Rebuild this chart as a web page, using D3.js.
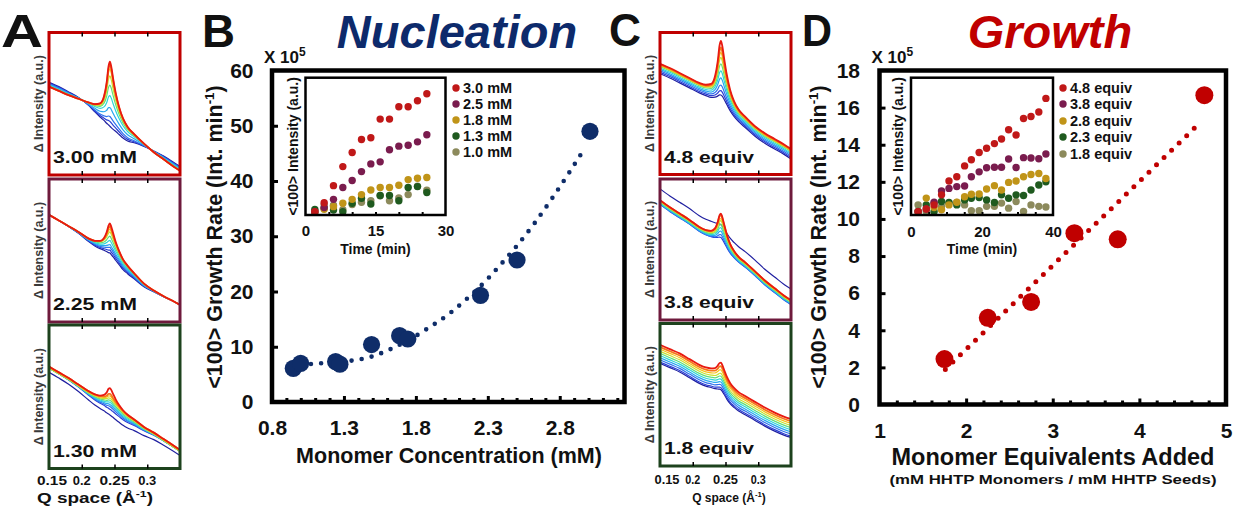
<!DOCTYPE html>
<html>
<head>
<meta charset="utf-8">
<script src="https://cdn.jsdelivr.net/npm/d3@7"></script>
<style>
body { margin: 0; background: #fff; }
text { font-family: "Liberation Sans", Arial, sans-serif; font-weight: bold; fill: #111; }
</style>
</head>
<body>
<div id="fig"></div>
<script>
// ---------------- data ----------------
// B: nucleation rate vs monomer concentration
let concB = [0.948, 0.999, 1.242, 1.272, 1.492, 1.687, 1.744, 2.249, 2.503, 3.01];
let rateB = [6.1, 7.0, 7.3, 6.85, 10.4, 12.0, 11.4, 19.3, 25.7, 49.0];
let fitConcB = [0.93, 1.08, 1.2, 1.355, 1.49, 1.626, 1.75, 1.869, 2.043, 2.147, 2.307, 2.39, 2.49, 2.62, 2.745, 2.86, 2.98];
let fitRateB = [6.4, 6.9, 7.1, 7.5, 8.2, 9.6, 11.2, 13.1, 16.2, 18.5, 22.5, 24.9, 27.9, 32.2, 36.8, 41.3, 46.2];

// B inset: <100> intensity vs time
let timeB = [2, 4, 6, 8, 10, 12, 14, 16, 18, 20, 22, 24, 26];
let in30 = [1, 7.6, 20.2, 34.3, 44.7, 54.3, 55.6, 69.4, 69.4, 78.5, 78.5, 83, 88.1];
let in25 = [1, 4, 10.1, 18.8, 24, 30.6, 36.3, 37.8, 46.7, 49.4, 50.1, 52.6, 57.8];
let in18 = [0.5, 2.7, 4.7, 7.2, 10.1, 13.6, 17, 18.8, 18.8, 20.5, 24.7, 25.7, 26.2];
let in13 = [2.7, 3.5, 2.2, 1, 7.2, 10.9, 6.7, 12.9, 12.9, 9, 18.8, 19.5, 15.1];
let in10 = [0.5, 6.2, 5.7, 2.5, 6.2, 7.9, 9.1, 12.8, 9.1, 11.1, 13.6, 19.8, 16.8];
let legendB = ["3.0 mM", "2.5 mM", "1.8 mM", "1.3 mM", "1.0 mM"];

// D: growth rate vs monomer equivalents
let equivD = [1.75, 2.25, 2.75, 3.25, 3.75, 4.75];
let rateD = [2.45, 4.67, 5.53, 9.23, 8.9, 16.67];
let fitEquivD = [1.76, 4.69];
let fitRateD = [1.89, 15.14];

// D inset
let timeD = [2.0, 4.3, 6.5, 8.6, 10.7, 12.9, 15.1, 17.0, 19.2, 21.3, 23.5, 25.5, 27.5, 29.6, 31.7, 33.8, 36.0, 38.0];
let in48 = [1, 3, 6, 13.4, 23.6, 26.8, 34.8, 39.4, 44.7, 47.9, 51.3, 54.7, 61.5, 57.7, 69.8, 71.3, 74.7, 84.7];
let in38 = [1, 3, 8, 16.3, 18.2, 19.5, 20, 26.8, 30.4, 33.4, 33.8, 33.8, 39.9, 33.6, 40.9, 40.6, 40.1, 43.6];
let in28 = [1, 11, 4, 2.4, 6, 8, 12, 13.9, 14, 17.7, 20.2, 17, 22.6, 23.6, 26.8, 28.5, 29.2, 25.5];
let in23 = [1.2, 6, 1.2, 8.5, 7.8, 6, 9.7, 10.9, 11.4, 9.7, 7.8, 13.4, 10.9, 13.4, 12.9, 17, 20.7, 23.1];
let in18e = [6, 1.2, 7.3, 4.9, 7.3, 7.8, 6, 1.7, 1.7, 4.9, 4.9, 7.3, 3.6, 8.5, 1.2, 6, 4.9, 4.4];
let legendD = ["4.8 equiv", "3.8 equiv", "2.8 equiv", "2.3 equiv", "1.8 equiv"];

let insetColors = ["#c01818", "#7a1c4e", "#c09418", "#1f5a1f", "#8c8a5c"];

// A / C: difference spectra (Q space), baseline + peak for each trace
let qGrid = [0.150, 0.165, 0.180, 0.195, 0.210, 0.220, 0.228, 0.234, 0.238, 0.241, 0.243, 0.245, 0.248, 0.252, 0.257, 0.263, 0.270, 0.280, 0.295, 0.310, 0.325, 0.340, 0.350];
let peakShape = [0, 0, 0, 0, 0, 0.02, 0.08, 0.25, 0.55, 0.9, 1, 0.92, 0.7, 0.45, 0.25, 0.12, 0.05, 0.02, 0, 0, 0, 0, 0];
let humpShape = [0, 0, 0.05, 0.15, 0.35, 0.55, 0.7, 0.8, 0.87, 0.92, 0.95, 0.98, 1, 1, 0.97, 0.9, 0.8, 0.6, 0.35, 0.15, 0.05, 0, 0];
let rainbow = ["#1f1fa0", "#2a3fd6", "#2f72ee", "#27a8f0", "#2fd6d6", "#62de7a", "#c8e030", "#f6c21a", "#f6781a", "#e81a10"];

let baseA1 = [62, 59, 56, 53.5, 51, 49, 47.5, 46.5, 45.5, 45, 44.5, 44, 43, 41.5, 39, 35.5, 32, 28, 22, 16, 11, 6, 3];
let peakA1 = [0, 2, 4, 8, 14, 20, 26, 30, 33, 35];
let humpA1 = [-14, -12, -10, -7, -4, -2, -1, 0, 0, 0];
let offA1 = [3, 2.5, 2, 1.5, 1, 0.5, 0, 0, 0, 0];

let baseA2 = [75, 71, 67, 63, 58.5, 56.5, 55.5, 55, 54.5, 54, 54, 53, 51.5, 49, 46, 42, 38.6, 33.8, 26.8, 22, 18, 14.5, 12];
let peakA2 = [0, 1, 2, 3, 5, 7, 9, 11, 13, 15];
let humpA2 = [-6, -5, -4, -3, -2, -1, 0, 0, 0, 0];
let offA2 = [0, 0, 0, 0, 0, 0, 0, 0, 0, 0];

let baseA3 = [70, 66, 62, 57.5, 53, 50.5, 49, 48, 47, 46.5, 46, 45.5, 44.5, 43, 41, 38.5, 36, 33, 28, 24, 19.5, 15, 12];
let peakA3 = [0, 0, 1, 1.5, 2, 2.5, 3, 4, 5, 9];
let humpA3 = [-6, -5, -4, -3, -2, -1, 0, 0, 0, 0];
let offA3 = [-3, 0, 0, 0, 0, 0, 0, 0.5, 1, 1];

let baseC1 = [78, 75, 71.5, 68, 64.5, 62.5, 61, 60.5, 60, 59.5, 59, 58.5, 57, 54.5, 51, 47.5, 44, 40, 34, 29, 25, 21, 18];
let peakC1 = [4, 6, 9, 13, 17, 21, 25, 28, 31, 35];
let humpC1 = [0, 0, 0, 0, 0, 0, 0, 0, 0, 0];
let offC1 = [-7, -6, -5, -4, -3, -2, -1.5, -1, -0.5, 0];

let baseC2 = [85, 80, 75.5, 71, 66, 63.5, 62, 61, 60.5, 60, 59.5, 58.5, 56.5, 53.5, 50, 47, 44, 40.5, 34.5, 28, 22.5, 17, 14];
let peakC2 = [0, 2, 4, 6, 8, 10, 12, 13, 15, 16];
let humpC2 = [0, 0, 0, 0, 0, 0, 0, 0, 0, 0];
let offC2 = [8, -3, -3, -2.5, -2, -1.5, -1, -0.5, 0, 0];

let baseC3 = [85, 82, 79, 75, 71, 69, 68, 67, 66.5, 66, 65.5, 64.5, 62.5, 59.5, 56.5, 54, 51.5, 49, 45, 41, 37.5, 34.5, 33];
let peakC3 = [1, 1.5, 2, 2.5, 3, 3.5, 4, 5, 6, 7];
let humpC3 = [0, 0, 0, 0, 0, 0, 0, 0, 0, 0];
let offC3 = [-13, -12, -10.5, -9, -7.5, -6, -4.5, -3, -1.5, 0];

let qTicks = [0.15, 0.2, 0.25, 0.3];

// ---------------- drawing ----------------
let svg = d3.select("#fig").append("svg")
  .attr("width", 1236)
  .attr("height", 506);
svg.append("rect").attr("width", 1236).attr("height", 506).attr("fill", "#fff");

let navy = "#0f2d69";
let red = "#c00000";
let clipN = 0;

function addText(x, y, s, size, opts) {
  opts = opts || {};
  let t = svg.append("text")
    .attr("x", x).attr("y", y)
    .attr("font-size", size)
    .attr("text-anchor", opts.anchor || "start")
    .text(s);
  if (opts.fill) t.style("fill", opts.fill);
  if (opts.italic) t.attr("font-style", "italic");
  if (opts.len) t.attr("textLength", opts.len).attr("lengthAdjust", "spacingAndGlyphs");
  return t;
}

// vertical label centred on (cx, cy)
function vLabel(cx, cy, size, parts, fill) {
  let t = svg.append("text")
    .attr("transform", `translate(${cx},${cy}) rotate(-90)`)
    .attr("text-anchor", "middle")
    .attr("y", size * 0.36)
    .attr("font-size", size);
  if (fill) t.style("fill", fill);
  parts.forEach(p => {
    let s = t.append("tspan").text(p.t);
    if (p.sup) s.attr("font-size", size * 0.62).attr("dy", -size * 0.38);
    if (p.back) s.attr("dy", size * 0.38);
  });
  return t;
}

function styleAxis(g, size) {
  g.select(".domain").remove();
  g.selectAll("line").attr("stroke", "#000");
  g.selectAll("text").attr("font-size", size)
    .attr("font-family", '"Liberation Sans", Arial, sans-serif')
    .attr("font-weight", "bold").style("fill", "#111");
}

// spectrum box (panels A and C)
function drawSpectrum(box, base, peaks, humps, offs) {
  let x = d3.scaleLinear().domain([0.15, 0.35]).range([box.x0, box.x1]);
  let y = d3.scaleLinear().domain([0, 100]).range([box.y1, box.y0]);
  let id = "clip" + (clipN++);
  svg.append("clipPath").attr("id", id).append("rect")
    .attr("x", box.x0).attr("y", box.y0)
    .attr("width", box.x1 - box.x0).attr("height", box.y1 - box.y0);
  let g = svg.append("g").attr("clip-path", `url(#${id})`);
  let line = d3.line().x(d => x(d[0])).y(d => y(d[1])).curve(d3.curveMonotoneX);
  peaks.forEach((p, i) => {
    let pts = qGrid.map((q, k) => [q, base[k] + offs[i] + p * peakShape[k] + humps[i] * humpShape[k]]);
    g.append("path")
      .attr("d", line(pts))
      .attr("fill", "none")
      .attr("stroke", rainbow[i])
      .attr("stroke-width", i > 7 ? 1.8 : 1.2);
  });
  svg.append("rect")
    .attr("x", box.x0).attr("y", box.y0)
    .attr("width", box.x1 - box.x0).attr("height", box.y1 - box.y0)
    .attr("fill", "none").attr("stroke", box.color).attr("stroke-width", 3);
  let gt = svg.append("g").attr("transform", `translate(0,${box.y0})`)
    .call(d3.axisTop(x).tickValues([0.2, 0.25, 0.3]).tickSize(-4).tickFormat(""));
  styleAxis(gt, 10);
  gt.selectAll("line").attr("stroke-width", 1.5);
  let gb = svg.append("g").attr("transform", `translate(0,${box.y1})`)
    .call(d3.axisBottom(x).tickValues([0.2, 0.25, 0.3]).tickSize(-4).tickFormat(""));
  styleAxis(gb, 10);
  gb.selectAll("line").attr("stroke-width", 1.5);
  vLabel(box.x0 - 11, (box.y0 + box.y1) / 2, 12.5, [{ t: "\u0394 Intensity (a.u.)" }], "#3a3a3a");
  addText(box.x0 + 4, box.y1 - 12, box.label, 17, { len: box.len });
  return x;
}

// panel A
let boxesA = [
  { x0: 49, x1: 180, y0: 32.5, y1: 175, color: "#c00000", label: "3.00 mM", len: 84 },
  { x0: 49, x1: 180, y0: 179, y1: 322, color: "#6e1a3c", label: "2.25 mM", len: 84 },
  { x0: 49, x1: 180, y0: 325, y1: 468.5, color: "#1d421d", label: "1.30 mM", len: 84 }
];
drawSpectrum(boxesA[0], baseA1, peakA1, humpA1, offA1);
drawSpectrum(boxesA[1], baseA2, peakA2, humpA2, offA2);
let qA = drawSpectrum(boxesA[2], baseA3, peakA3, humpA3, offA3);

// panel C
let boxesC = [
  { x0: 660, x1: 791, y0: 32.5, y1: 174.5, color: "#c00000", label: "4.8 equiv", len: 90 },
  { x0: 660, x1: 791, y0: 179, y1: 320, color: "#6e1a3c", label: "3.8 equiv", len: 90 },
  { x0: 660, x1: 791, y0: 323.5, y1: 466, color: "#1d421d", label: "1.8 equiv", len: 90 }
];
drawSpectrum(boxesC[0], baseC1, peakC1, humpC1, offC1);
drawSpectrum(boxesC[1], baseC2, peakC2, humpC2, offC2);
let qC = drawSpectrum(boxesC[2], baseC3, peakC3, humpC3, offC3);

// Q axis labels under A and C
qTicks.forEach((q, i) => {
  let s = String(q);
  let wide = s.length === 4;
  addText(qA(q) + (i === 0 ? 3 : 0), 485, s, 12.5, { anchor: "middle", len: wide ? 30 : 18 });
  addText(qC(q) + (i === 0 ? 7 : 0), 484, s, 12, { anchor: "middle", len: wide ? 25 : 15 });
});
function qLabel(cx, y, size, len) {
  let t = svg.append("text").attr("x", cx).attr("y", y).attr("font-size", size)
    .attr("text-anchor", "middle");
  t.append("tspan").text("Q space (\u00c5");
  t.append("tspan").text("-1").attr("font-size", size * 0.65).attr("dy", -size * 0.4);
  t.append("tspan").text(")").attr("dy", size * 0.4);
  if (len) t.attr("textLength", len).attr("lengthAdjust", "spacingAndGlyphs");
}
qLabel(95, 503, 14.5, 116);
qLabel(729, 502, 12, null);

// ---------- main plot helper (B and D) ----------
function drawMain(cfg) {
  let x = d3.scaleLinear().domain(cfg.xDom).range([cfg.x0, cfg.x1]);
  let y = d3.scaleLinear().domain(cfg.yDom).range([cfg.y1, cfg.y0]);

  let gm = svg.append("g").attr("transform", `translate(0,${cfg.y1})`)
    .call(d3.axisBottom(x).tickValues(cfg.minor).tickSize(-4).tickFormat(""));
  styleAxis(gm, 10);
  gm.selectAll("line").attr("stroke-width", 3);
  let gM = svg.append("g").attr("transform", `translate(0,${cfg.y1})`)
    .call(d3.axisBottom(x).tickValues(cfg.major).tickSize(-6).tickFormat(""));
  styleAxis(gM, 10);
  gM.selectAll("line").attr("stroke-width", 3);
  let gl = svg.append("g").attr("transform", `translate(${cfg.x0},0)`)
    .call(d3.axisLeft(y).tickValues(cfg.yTicks.slice(1, -1)).tickSize(-6).tickFormat(""));
  styleAxis(gl, 10);
  gl.selectAll("line").attr("stroke-width", 3);

  let gxl = svg.append("g").attr("transform", `translate(0,${cfg.y1})`)
    .call(d3.axisBottom(x).tickValues(cfg.xLabels).tickSize(0).tickPadding(cfg.xPad).tickFormat(cfg.xFmt));
  styleAxis(gxl, 21);
  let gyl = svg.append("g").attr("transform", `translate(${cfg.x0},0)`)
    .call(d3.axisLeft(y).tickValues(cfg.yTicks).tickSize(0).tickPadding(cfg.yPad));
  styleAxis(gyl, 21);

  svg.append("rect")
    .attr("x", cfg.x0).attr("y", cfg.y0)
    .attr("width", cfg.x1 - cfg.x0).attr("height", cfg.y1 - cfg.y0)
    .attr("fill", "none").attr("stroke", "#000").attr("stroke-width", 4.5);

  // dotted trend line
  let line = d3.line().x(d => x(d[0])).y(d => y(d[1])).curve(d3.curveMonotoneX);
  svg.append("path")
    .attr("d", line(cfg.fitX.map((v, i) => [v, cfg.fitY[i]])))
    .attr("fill", "none").attr("stroke", cfg.color)
    .attr("stroke-width", cfg.dotW).attr("stroke-linecap", "round")
    .attr("stroke-dasharray", `0,${cfg.dotGap}`);

  svg.append("g").selectAll("circle")
    .data(cfg.px.map((v, i) => [v, cfg.py[i]]))
    .enter().append("circle")
    .attr("cx", d => x(d[0])).attr("cy", d => y(d[1]))
    .attr("r", cfg.r).attr("fill", cfg.color);

  // multiplier
  let m = svg.append("text").attr("x", cfg.x0 - 8).attr("y", cfg.y0 - 8).attr("font-size", 17);
  m.append("tspan").text("X 10");
  m.append("tspan").text("5").attr("font-size", 12).attr("dy", -7);
}

function drawInset(cfg) {
  let x = d3.scaleLinear().domain(cfg.xDom).range([cfg.x0, cfg.x1]);
  let y = d3.scaleLinear().domain([0, 100]).range([cfg.y1 - 2, cfg.y0]);
  svg.append("rect")
    .attr("x", cfg.x0).attr("y", cfg.y0)
    .attr("width", cfg.x1 - cfg.x0).attr("height", cfg.y1 - cfg.y0)
    .attr("fill", "#fff");
  cfg.series.slice().reverse().forEach((s, k) => {
    let i = cfg.series.length - 1 - k;
    svg.append("g").selectAll("circle")
      .data(cfg.times.map((t, j) => [t, s[j]]))
      .enter().append("circle")
      .attr("cx", d => x(d[0])).attr("cy", d => y(d[1]))
      .attr("r", 3.7).attr("fill", insetColors[i]);
  });
  svg.append("rect")
    .attr("x", cfg.x0).attr("y", cfg.y0)
    .attr("width", cfg.x1 - cfg.x0).attr("height", cfg.y1 - cfg.y0)
    .attr("fill", "none").attr("stroke", "#000").attr("stroke-width", 2.5);
  let gt = svg.append("g").attr("transform", `translate(0,${cfg.y1})`)
    .call(d3.axisBottom(x).tickValues(cfg.minor).tickSize(-3).tickFormat(""));
  styleAxis(gt, 10);
  gt.selectAll("line").attr("stroke-width", 2);
  let gl = svg.append("g").attr("transform", `translate(0,${cfg.y1})`)
    .call(d3.axisBottom(x).tickValues(cfg.labels).tickSize(0).tickPadding(cfg.pad));
  styleAxis(gl, 15);
  addText((cfg.x0 + cfg.x1) / 2, 254, "Time (min)", 14, { anchor: "middle" });
  vLabel(cfg.x0 - 13, (cfg.y0 + cfg.y1) / 2, 14, [{ t: "<100> Intensity (a.u.)" }]);

  cfg.legend.forEach((s, i) => {
    let yy = cfg.legY[i];
    svg.append("circle").attr("cx", cfg.legX).attr("cy", yy).attr("r", 3.7).attr("fill", insetColors[i]);
    addText(cfg.legX + 7, yy + 5, s, 14.5);
  });
}

// panel B
drawMain({
  xDom: [0.8, 3.25], yDom: [0, 60],
  x0: 272, x1: 624.5, y0: 70.5, y1: 402,
  minor: d3.range(9, 33).filter(d => (d - 8) % 5 !== 0).map(d => d / 10),
  major: [1.3, 1.8, 2.3, 2.8],
  xLabels: [0.8, 1.3, 1.8, 2.3, 2.8], xFmt: d3.format(".1f"), xPad: 18,
  yTicks: [0, 10, 20, 30, 40, 50, 60], yPad: 18.5,
  fitX: fitConcB, fitY: fitRateB, px: concB, py: rateB,
  color: navy, r: 8.6, dotW: 4.6, dotGap: 10.2
});
drawInset({
  xDom: [0, 30], x0: 305.5, x1: 445.5, y0: 77.7, y1: 215,
  times: timeB, series: [in30, in25, in18, in13, in10],
  minor: [5, 10, 15, 20, 25], labels: [0, 15, 30], pad: 10,
  legend: legendB, legX: 456, legY: [88, 104, 120, 136, 152]
});

// panel D
drawMain({
  xDom: [1, 5], yDom: [0, 18],
  x0: 879.5, x1: 1226, y0: 70.5, y1: 404.5,
  minor: d3.range(6, 25).filter(d => d % 5 !== 0).map(d => d / 5),
  major: [2, 3, 4],
  xLabels: [1, 2, 3, 4, 5], xFmt: d3.format("d"), xPad: 19,
  yTicks: [0, 2, 4, 6, 8, 10, 12, 14, 16, 18], yPad: 19.5,
  fitX: fitEquivD, fitY: fitRateD, px: equivD, py: rateD,
  color: red, r: 9, dotW: 5, dotGap: 10.5
});
drawInset({
  xDom: [0, 40], x0: 911, x1: 1053, y0: 77.7, y1: 215,
  times: timeD, series: [in48, in38, in28, in23, in18e],
  minor: [5, 10, 15, 20, 25, 30, 35], labels: [0, 20, 40], pad: 11,
  legend: legendD, legX: 1063, legY: [88, 104, 121, 137, 154]
});

// axis titles
vLabel(214.5, 237, 21.5, [{ t: "<100> Growth Rate (Int. min" }, { t: "-1", sup: true }, { t: ")", back: true }]);
vLabel(818.5, 237, 21.5, [{ t: "<100> Growth Rate (Int. min" }, { t: "-1", sup: true }, { t: ")", back: true }]);
addText(449, 463, "Monomer Concentration (mM)", 21.5, { anchor: "middle" });
addText(1053, 465, "Monomer Equivalents Added", 23.5, { anchor: "middle" });
addText(1053, 484, "(mM HHTP Monomers / mM HHTP Seeds)", 13.5, { anchor: "middle", len: 327 });

// titles and panel letters
addText(457, 48, "Nucleation", 47, { anchor: "middle", italic: true, fill: "#0d2a6b" });
addText(1050, 48, "Growth", 47, { anchor: "middle", italic: true, fill: red });
addText(1, 47, "A", 47, { len: 42 });
addText(202, 47, "B", 46, { len: 33 });
addText(609, 46, "C", 46, { len: 32 });
addText(802, 46, "D", 44, { len: 30 });
</script>
</body>
</html>
